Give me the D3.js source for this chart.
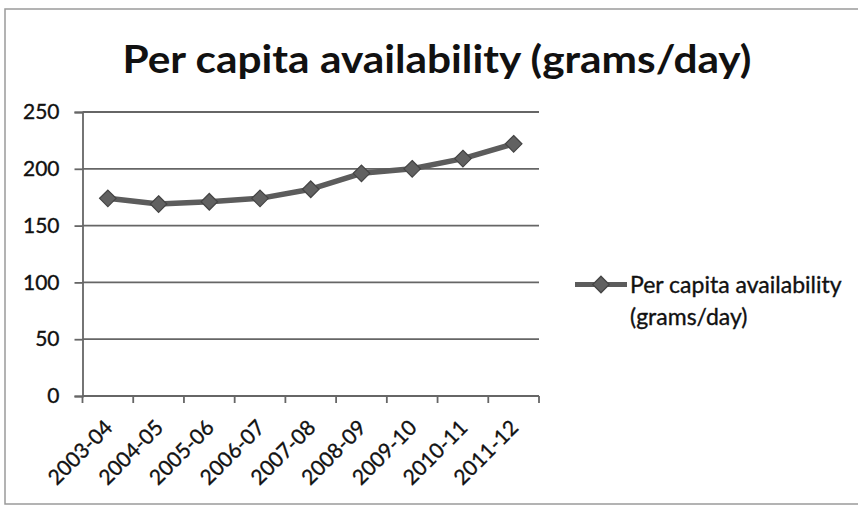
<!DOCTYPE html>
<html>
<head>
<meta charset="utf-8">
<script src="https://cdn.jsdelivr.net/npm/d3@7"></script>
<style>
  html, body { margin: 0; padding: 0; background: #fff; }
  svg { display: block; }
  text { font-family: Lato, "Open Sans", sans-serif; fill: #111; }
  .lbl { stroke: #111; stroke-width: 0.35px; }
</style>
</head>
<body>
<svg id="chart" width="858" height="506"></svg>
<script>
// Per capita availability, grams per day, by year
const years = ["2003-04", "2004-05", "2005-06", "2006-07", "2007-08",
               "2008-09", "2009-10", "2010-11", "2011-12"];
const availability = [174, 169, 171, 174, 182, 196, 200, 209, 222];
const yTicks = [0, 50, 100, 150, 200, 250];
const chartTitle = "Per capita availability (grams/day)";
const seriesName = ["Per capita availability", "(grams/day)"];

const svg = d3.select("#chart");
const plot = { left: 82.5, right: 539, top: 112, bottom: 396 };
const gridColor = "#666";

// outer chart frame
svg.append("rect")
  .attr("x", 5).attr("y", 9)
  .attr("width", 870).attr("height", 495)
  .attr("fill", "#fff")
  .attr("stroke", "#9a9a9a").attr("stroke-width", 1.5);

// title
svg.append("text")
  .attr("x", 437).attr("y", 73)
  .attr("text-anchor", "middle")
  .attr("font-size", 39).attr("font-weight", "bold")
  .attr("textLength", 629).attr("lengthAdjust", "spacingAndGlyphs")
  .text(chartTitle);

const x = d3.scaleBand().domain(years).range([plot.left, plot.right]);
const y = d3.scaleLinear().domain([0, 250]).range([plot.bottom, plot.top]);

// horizontal gridlines
svg.append("g")
  .selectAll("line")
  .data(yTicks)
  .join("line")
  .attr("x1", plot.left).attr("x2", plot.right)
  .attr("y1", d => y(d)).attr("y2", d => y(d))
  .attr("stroke", gridColor).attr("stroke-width", 1.8);

// y axis
const yAxis = svg.append("g")
  .attr("transform", `translate(${plot.left},0)`)
  .call(d3.axisLeft(y).tickValues(yTicks).tickSize(8).tickPadding(15));
yAxis.select(".domain").attr("stroke", gridColor).attr("stroke-width", 1.8);
yAxis.selectAll(".tick line").attr("stroke", gridColor).attr("stroke-width", 1.8);
yAxis.selectAll(".tick text")
  .attr("class", "lbl")
  .attr("font-size", 21).attr("font-family", "Lato, 'Open Sans', sans-serif")
  .attr("fill", "#111");

// x axis with ticks on category boundaries
const xAxisG = svg.append("g").attr("transform", `translate(0,${plot.bottom})`);
xAxisG.append("line")
  .attr("x1", plot.left).attr("x2", plot.right)
  .attr("stroke", gridColor).attr("stroke-width", 1.8);
const boundaries = years.map(d => x(d)).concat([x(years[years.length - 1]) + x.bandwidth()]);
xAxisG.selectAll("line.tk")
  .data(boundaries)
  .join("line").attr("class", "tk")
  .attr("x1", d => d).attr("x2", d => d)
  .attr("y1", 0).attr("y2", 7)
  .attr("stroke", gridColor).attr("stroke-width", 1.8);
xAxisG.selectAll("text")
  .data(years)
  .join("text")
  .attr("class", "lbl")
  .attr("transform", d => `translate(${x(d) + x.bandwidth() / 2 + 6},${33}) rotate(-45)`)
  .attr("text-anchor", "end")
  .attr("font-size", 21)
  .text(d => d);

// series line and diamond markers
const line = d3.line()
  .x((d, i) => x(years[i]) + x.bandwidth() / 2)
  .y(d => y(d));

svg.append("path")
  .datum(availability)
  .attr("d", line)
  .attr("fill", "none")
  .attr("stroke", "#5c5c5c").attr("stroke-width", 5.5)
  .attr("stroke-linejoin", "round");

const diamond = d3.symbol().type(d3.symbolDiamond2).size(175);
svg.append("g")
  .selectAll("path")
  .data(availability)
  .join("path")
  .attr("transform", (d, i) => `translate(${x(years[i]) + x.bandwidth() / 2},${y(d)})`)
  .attr("d", diamond)
  .attr("fill", "#616161").attr("stroke", "#444").attr("stroke-width", 1.2);

// legend
const lg = svg.append("g").attr("transform", "translate(575,284.5)");
lg.append("line").attr("x1", 0).attr("x2", 52)
  .attr("stroke", "#5c5c5c").attr("stroke-width", 5);
lg.append("path")
  .attr("transform", "translate(26,0)")
  .attr("d", diamond)
  .attr("fill", "#616161").attr("stroke", "#444").attr("stroke-width", 1.2);
lg.selectAll("text")
  .data(seriesName)
  .join("text")
  .attr("class", "lbl")
  .attr("x", 55)
  .attr("y", (d, i) => 8.5 + i * 32)
  .attr("font-size", 23)
  .text(d => d);
</script>
</body>
</html>
